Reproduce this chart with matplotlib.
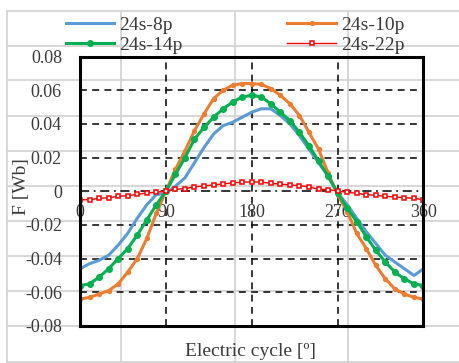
import numpy as np
import matplotlib
matplotlib.use('Agg')
import matplotlib.pyplot as plt

plt.rcParams['font.family'] = ['Liberation Serif', 'DejaVu Serif']

# electric angle (deg), sampled every 10 degrees
angle = np.arange(0, 361, 10)

flux_8p = [-0.046, -0.043, -0.041, -0.038, -0.032, -0.025, -0.016, -0.008, -0.002, -0.001,
           0.003, 0.008, 0.017, 0.026, 0.034, 0.039, 0.041, 0.044, 0.047, 0.049,
           0.049, 0.045, 0.040, 0.033, 0.025, 0.017, 0.009, -0.001, -0.008, -0.016,
           -0.024, -0.031, -0.038, -0.042, -0.046, -0.050, -0.046]
flux_10p = [-0.064, -0.063, -0.061, -0.059, -0.055, -0.048, -0.040, -0.028, -0.013, 0.000,
            0.013, 0.024, 0.036, 0.046, 0.055, 0.060, 0.063, 0.064, 0.064, 0.0635,
            0.061, 0.057, 0.052, 0.045, 0.035, 0.025, 0.011, -0.002, -0.012, -0.025,
            -0.034, -0.044, -0.052, -0.058, -0.061, -0.063, -0.064]
flux_14p = [-0.056, -0.055, -0.051, -0.046, -0.040, -0.034, -0.026, -0.017, -0.008, 0.000,
            0.010, 0.020, 0.031, 0.038, 0.044, 0.049, 0.053, 0.056, 0.057, 0.056,
            0.052, 0.047, 0.042, 0.035, 0.027, 0.018, 0.009, -0.001, -0.010, -0.018,
            -0.027, -0.035, -0.042, -0.048, -0.052, -0.055, -0.056]
flux_22p = [-0.0050, -0.0050, -0.0042, -0.0038, -0.0030, -0.0026, -0.0018, -0.0010, -0.0006, 0.0002,
            0.0012, 0.0016, 0.0026, 0.0032, 0.0038, 0.0044, 0.0050, 0.0054, 0.0056, 0.0054,
            0.0048, 0.0042, 0.0038, 0.0034, 0.0026, 0.0012, 0.0010, 0.0002, -0.0006, -0.0012,
            -0.0020, -0.0024, -0.0030, -0.0034, -0.0038, -0.0042, -0.0050]

xticks = [0, 90, 180, 270, 360]
yticks = [-0.08, -0.06, -0.04, -0.02, 0, 0.02, 0.04, 0.06, 0.08]
ylabels = ['-0.08', '-0.06', '-0.04', '-0.02', '0', '0.02', '0.04', '0.06', '0.08']

W, H = 460, 363
fig = plt.figure(figsize=(W / 100, H / 100), dpi=100)
txt = '#3a3a3a'

# spreadsheet cell grid behind the chart
bg = fig.add_axes([0, 0, 1, 1], zorder=-1)
bg.set_xlim(0, W)
bg.set_ylim(H, 0)
bg.axis('off')
cell_rows = [11, 45.7, 80, 115.5, 150.5, 186, 221, 256, 290.5, 326, 361.5]
cell_cols = [7, 121, 235, 348]
for yy in cell_rows:
    bg.plot([7, W], [yy, yy], color='#d4d4d4', lw=1.3)
for xx in cell_cols:
    bg.plot([xx, xx], [11, H], color='#d4d4d4', lw=1.3)

ax = fig.add_axes([80 / W, 37 / H, 343.5 / W, 269.4 / H])
ax.set_facecolor('none')

for y in yticks:
    if y == 0 or abs(y) == 0.08:
        continue
    ax.axhline(y, color='black', lw=1.1, ls=(0, (4.5, 3.5)), zorder=1)
for x in xticks[1:-1]:
    ax.axvline(x, color='black', lw=1.1, ls=(0, (4.5, 3.5)), zorder=1)
ax.axhline(0, color='black', lw=1.1, ls=(0, (6, 3, 1.2, 3)), zorder=1)

l1, = ax.plot(angle, flux_8p, color='#5B9BD5', lw=2.2, zorder=3, label='24s-8p')
l2, = ax.plot(angle, flux_10p, color='#ED7D31', lw=2.2, marker='o', ms=2.8,
              zorder=3, label='24s-10p')
l3, = ax.plot(angle, flux_14p, color='#00B050', lw=2.2, marker='o', ms=4,
              zorder=4, label='24s-14p')
l4, = ax.plot(angle, flux_22p, color='#FF0000', lw=1.0, marker='s', ms=3.5,
              mfc='white', mec='#FF0000', mew=1.1, zorder=5, label='24s-22p')

ax.set_xlim(0, 360)
ax.set_ylim(-0.08, 0.08)
ax.set_yticks(yticks)
ax.set_yticklabels(ylabels)
ax.set_xticks([])
ax.tick_params(axis='y', length=0, labelsize=13, labelcolor=txt, pad=13)
for s in ax.spines.values():
    s.set_linewidth(2.2)
    s.set_color('black')
    s.set_zorder(6)

# x tick labels sit just under the zero line (Excel axis crosses at 0)
for t in xticks:
    ax.annotate(str(t), (t, 0), xytext=(0, -9), textcoords='offset points',
                ha='center', va='top', fontsize=13, color=txt,
                annotation_clip=False, zorder=2)

fig.text(22 / W, 1 - 187 / H, 'F [Wb]', rotation=90, ha='center', va='center',
         fontsize=14, color=txt)
fig.text(251 / W, 1 - 351 / H, 'Electric cycle [º]', ha='center', va='center',
         fontsize=14, color=txt)

leg = fig.legend([l1, l3, l2, l4], ['24s-8p', '24s-14p', '24s-10p', '24s-22p'],
                 ncol=2, loc='center', bbox_to_anchor=(235 / W, 1 - 35 / H),
                 frameon=False, fontsize=14, handlelength=2.5, handletextpad=0.25,
                 columnspacing=5.4, labelspacing=0.1, borderpad=0)
for t in leg.get_texts():
    t.set_color(txt)

fig.savefig('out.png', dpi=100)
